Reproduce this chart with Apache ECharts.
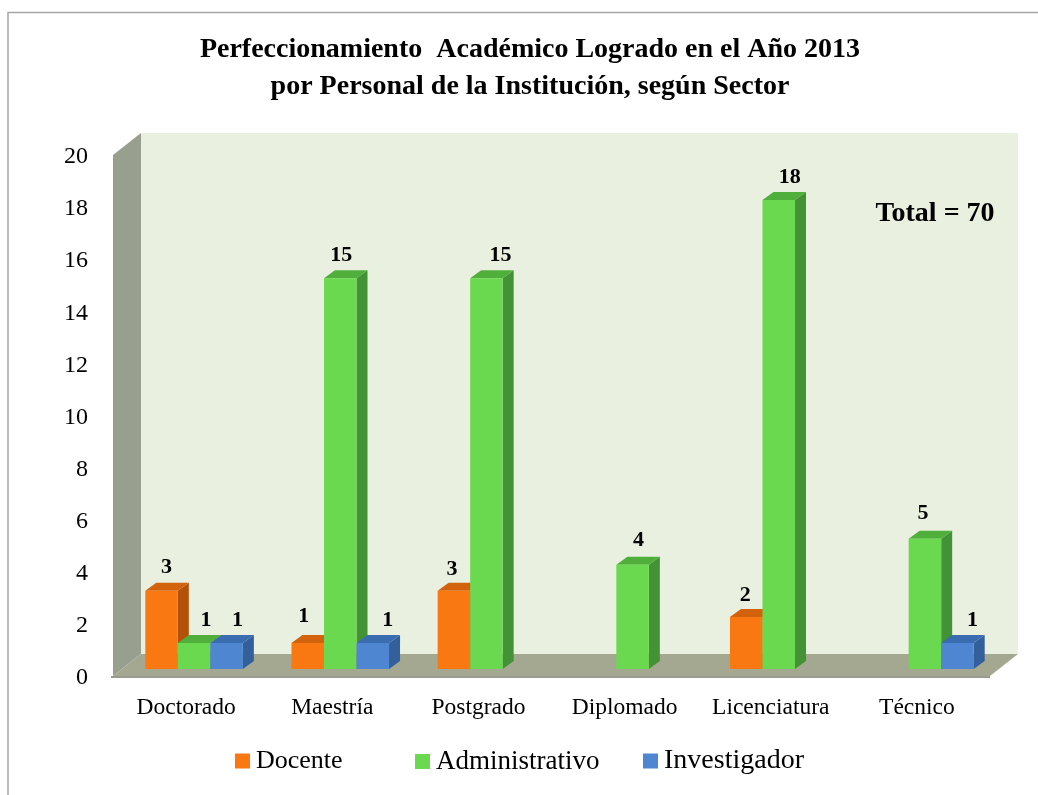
<!DOCTYPE html>
<html><head><meta charset="utf-8">
<style>html,body{margin:0;padding:0;background:#fff}#c{width:1038px;height:795px}</style>
<script src="https://cdn.jsdelivr.net/npm/echarts@6/dist/echarts.min.js"></script>
</head><body><div id="c"></div>
<script>
const categories = ['Doctorado','Maestría','Postgrado','Diplomado','Licenciatura','Técnico'];
const docente = [3,1,3,null,2,null];
const administrativo = [1,15,15,4,18,5];
const investigador = [1,1,null,null,null,1];
const yTicks = {min:0,max:20,interval:2};

const FONT = '"Liberation Serif", serif';
const palette = {
  Docente:{front:'#F97811',side:'#B25208',top:'#D2620C'},
  Administrativo:{front:'#6BD94F',side:'#439336',top:'#50AE3B'},
  Investigador:{front:'#4E86D1',side:'#335F9A',top:'#3A6CB0'}
};
// label nudges relative to the default spot, per series and category
const nudge = {
  Docente:[[-3,-1],[-12,-4],[-10,1],[0,0],[-9,1],[0,0]],
  Administrativo:[[4,0],[-7,0],[6,0],[-2,-1],[3,0],[-10,-2]],
  Investigador:[[3,0],[7,0],[0,0],[0,0],[0,0],[7,0]]
};
const DX=28, DY=22;      // full wall depth
const BX=11, BY=8;       // bar depth
const SX=8, SY=7;        // bar front offset from the axis plane
const BAR=0.2225;

function barSeries(name, values, idx){
  const c = palette[name];
  return {
    name, type:'custom', coordinateSystem:'cartesian2d', z:3,
    itemStyle:{color:c.front},
    encode:{x:0,y:1},
    data: values.map((v,i)=>[i,v]).filter(d=>d[1]!=null),
    renderItem(params, api){
      const cat = api.value(0), val = api.value(1);
      const band = api.size([1,0])[0], w = band*BAR;
      const centre = api.coord([cat,0])[0];
      const l = centre + (idx-1.5)*w + SX;
      const r = l + w;
      const y0 = api.coord([cat,0])[1] - SY;
      const y1 = api.coord([cat,val])[1] - SY;
      const poly = (pts,fill)=>({type:'polygon',shape:{points:pts},style:{fill}});
      const n = nudge[name][cat];
      return {type:'group',children:[
        poly([[r,y1],[r+BX,y1-BY],[r+BX,y0-BY],[r,y0]],c.side),
        poly([[l,y1],[l+BX,y1-BY],[r+BX,y1-BY],[r,y1]],c.top),
        poly([[l,y1],[r,y1],[r,y0],[l,y0]],c.front),
        {type:'text',z2:50,style:{text:String(val),x:(l+r)/2+8+n[0],y:y1-23+n[1],
          align:'center',verticalAlign:'middle',fill:'#000',font:'bold 22px '+FONT}}
      ]};
    }
  };
}

const wallSeries = {
  type:'custom', coordinateSystem:'cartesian2d', z:1, silent:true, legendHoverLink:false,
  data:[[0,0]], encode:{x:0,y:1},
  renderItem(params, api){
    const cs = params.coordSys;
    const x0 = cs.x, x1 = cs.x+cs.width, yb = cs.y+cs.height, yt = cs.y;
    const poly = (pts,fill)=>({type:'polygon',shape:{points:pts},style:{fill}});
    return {type:'group',children:[
      poly([[x0+DX,yt-DY],[x1+DX,yt-DY],[x1+DX,yb-DY],[x0+DX,yb-DY]],'#E9F0DF'),
      poly([[x0,yt],[x0+DX,yt-DY],[x0+DX,yb-DY],[x0,yb]],'#999F8E'),
      poly([[x0,yb],[x0+DX,yb-DY],[x1+DX,yb-DY],[x1,yb]],'#A5A890'),
      {type:'line',shape:{x1:x0-2,y1:yb+1,x2:x1,y2:yb+1},style:{stroke:'#9A9A92',lineWidth:2}}
    ]};
  }
};

function legendItem(name,left,size,top){
  return {left,top,padding:0,itemWidth:15,itemHeight:15,icon:'rect',data:[name],
    textStyle:{fontFamily:FONT,fontSize:size,color:'#000',padding:[0,0,0,1]}};
}

const chart = echarts.init(document.getElementById('c'),null,{renderer:'canvas'});
chart.setOption({
  animation:false,
  backgroundColor:'#fff',
  textStyle:{fontFamily:FONT,color:'#000'},
  title:{left:525,top:26,textAlign:'center',
    text:'Perfeccionamiento  Académico Logrado en el Año 2013\npor Personal de la Institución, según Sector',
    textStyle:{fontFamily:FONT,fontWeight:'bold',fontSize:28,lineHeight:37,color:'#000'}},
  legend:[legendItem('Docente',235,26,748),legendItem('Administrativo',415,27,748),legendItem('Investigador',643,28,747)],
  grid:{left:113,right:48,top:155,bottom:119,containLabel:false},
  xAxis:{type:'category',data:categories,
    axisLine:{show:false},axisTick:{show:false},
    axisLabel:{interval:0,fontFamily:FONT,fontSize:23.5,color:'#000',margin:20}},
  yAxis:{type:'value',min:yTicks.min,max:yTicks.max,interval:yTicks.interval,
    splitLine:{show:false},axisLine:{show:false},axisTick:{show:false},
    axisLabel:{fontFamily:FONT,fontSize:24,color:'#000',margin:25,verticalAlign:'top',lineHeight:4}},
  graphic:[
    {type:'polyline',silent:true,shape:{points:[[8,795],[8,12.5],[1038,12.5]]},
     style:{stroke:'#A6A6A6',fill:null,lineWidth:1.5}},
    {type:'text',silent:true,z:10,style:{text:'Total = 70',x:935,y:214,align:'center',verticalAlign:'middle',
      fill:'#000',font:'bold 28px '+FONT}}
  ],
  series:[wallSeries,
    barSeries('Docente',docente,0),
    barSeries('Administrativo',administrativo,1),
    barSeries('Investigador',investigador,2)]
});
</script></body></html>
